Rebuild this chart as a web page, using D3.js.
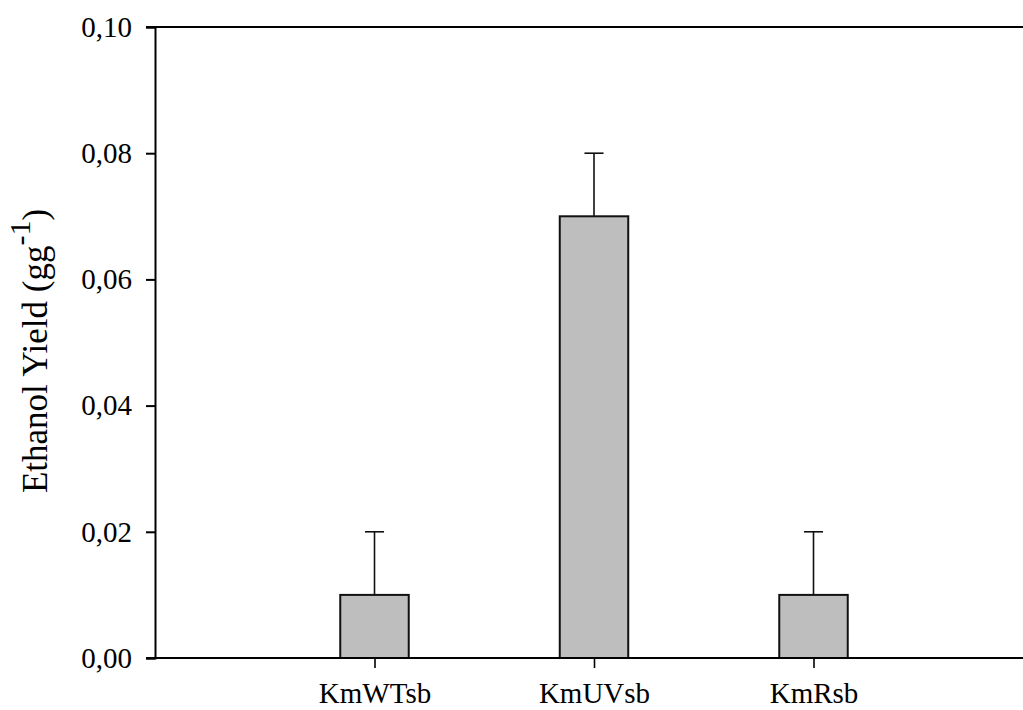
<!DOCTYPE html>
<html>
<head>
<meta charset="utf-8">
<script src="https://cdn.jsdelivr.net/npm/d3@7"></script>
<style>
  body { margin: 0; background: #fff; }
  svg { display: block; }
  text { font-family: 'Liberation Serif', 'Times New Roman', serif; fill: #000; }
</style>
</head>
<body>
<div id="chart"></div>
<script>
const categories = ['KmWTsb', 'KmUVsb', 'KmRsb'];
const yields = [0.01, 0.07, 0.01];
const errors = [0.01, 0.01, 0.01];
const yTicks = [0, 0.02, 0.04, 0.06, 0.08, 0.1];

const width = 1023;
const height = 710;
const margin = { top: 27, left: 155, bottom: 52 };
const plotBottom = height - margin.bottom;
const slot = 219.5;

const svg = d3
  .select('#chart')
  .append('svg')
  .attr('width', width)
  .attr('height', height);

const x = d3.scaleLinear().domain([0, 4]).range([margin.left, margin.left + 4 * slot]);
const y = d3.scaleLinear().domain([0, 0.1]).range([plotBottom, margin.top]);
const barW = 0.312;
const capW = 0.087;

const fmt = (d) => d3.format('.2f')(d).replace('.', ',');

// y axis
const yAxis = svg
  .append('g')
  .attr('transform', `translate(${margin.left},0)`)
  .call(d3.axisLeft(y).tickValues(yTicks).tickFormat(fmt).tickSize(9).tickPadding(14));
yAxis.select('.domain').attr('stroke-width', 2);
yAxis.selectAll('.tick line').attr('stroke-width', 2);
yAxis.selectAll('.tick text').style('font-size', '29px');

// top frame line
svg
  .append('line')
  .attr('x1', margin.left - 9)
  .attr('x2', width)
  .attr('y1', y(0.1))
  .attr('y2', y(0.1))
  .attr('stroke', '#000')
  .attr('stroke-width', 2);

// bars
svg
  .append('g')
  .selectAll('rect')
  .data(yields)
  .join('rect')
  .attr('x', (d, i) => x(i + 1 - barW / 2))
  .attr('width', x(barW) - x(0))
  .attr('y', (d) => y(d))
  .attr('height', (d) => y(0) - y(d))
  .attr('fill', '#bebebe')
  .attr('stroke', '#111')
  .attr('stroke-width', 2);

// error bars (upper only)
const err = svg.append('g').attr('stroke', '#111').attr('stroke-width', 1.6);
err
  .selectAll('.stem')
  .data(yields)
  .join('line')
  .attr('class', 'stem')
  .attr('x1', (d, i) => x(i + 1))
  .attr('x2', (d, i) => x(i + 1))
  .attr('y1', (d) => y(d))
  .attr('y2', (d, i) => y(d + errors[i]));
err
  .selectAll('.cap')
  .data(yields)
  .join('line')
  .attr('class', 'cap')
  .attr('x1', (d, i) => x(i + 1 - capW / 2))
  .attr('x2', (d, i) => x(i + 1 + capW / 2))
  .attr('y1', (d, i) => y(d + errors[i]))
  .attr('y2', (d, i) => y(d + errors[i]));

// x axis
const xAxis = svg
  .append('g')
  .attr('transform', `translate(0,${plotBottom})`)
  .call(
    d3
      .axisBottom(x)
      .tickValues([1, 2, 3])
      .tickFormat((d) => categories[d - 1])
      .tickSize(10)
      .tickPadding(14)
  );
xAxis.select('.domain').attr('d', `M${margin.left - 9},0H${width}`).attr('stroke-width', 2);
xAxis.selectAll('.tick line').attr('stroke-width', 1.6);
xAxis.selectAll('.tick text').style('font-size', '29px');

// y title
const title = svg
  .append('text')
  .attr('transform', `translate(47,351) rotate(-90)`)
  .attr('text-anchor', 'middle')
  .style('font-size', '35px');
title.append('tspan').text('Ethanol Yield (gg');
title.append('tspan').attr('dy', -17).style('font-size', '30px').text('-1');
title.append('tspan').attr('dy', 17).text(')');
</script>
</body>
</html>
